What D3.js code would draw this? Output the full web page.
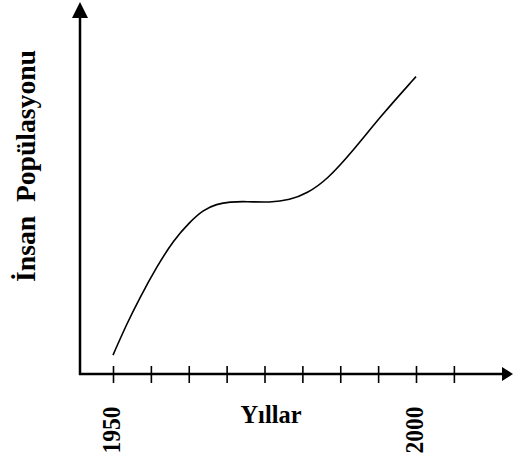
<!DOCTYPE html>
<html>
<head>
<meta charset="utf-8">
<script src="https://cdn.jsdelivr.net/npm/d3@7"></script>
<style>
  body { margin: 0; background: #fff; }
  text { font-family: "Liberation Serif", "Times New Roman", serif; font-weight: bold; fill: #000; }
</style>
</head>
<body>
<div id="container"></div>
<script>
// years and population (arbitrary units)
const years = [1950, 1952.3, 1954.5, 1957.2, 1960, 1962.7, 1964.9, 1967.1, 1969.3, 1972, 1975.9, 1979.2, 1982, 1985.3, 1989.7, 1994.1, 2000]
const population = [5.2, 13.9, 21.2, 29.4, 36.8, 41.8, 45.1, 46.7, 47.3, 47.4, 47.1, 47.8, 49.6, 53.3, 61.5, 70.7, 81.7]
const tickYears = [1950, 1956.25, 1962.5, 1968.75, 1975, 1981.25, 1987.5, 1993.75, 2000, 2006.25]
const tickLabels = ["1950", "", "", "", "", "", "", "", "2000", ""]
const xTitle = "Yıllar"
const yTitle = "İnsan  Popülasyonu"

const width = 513
const height = 463
const origin = { x: 80, y: 374 }

const svg = d3.select('#container')
    .append('svg').attr('width', width).attr('height', height)

const xScale = d3.scaleLinear().domain([1950, 2000]).range([113, 416])
const yScale = d3.scaleLinear().domain([0, 100]).range([origin.y, 10])

// axes with arrow heads
svg.append("line")
    .attr("x1", origin.x).attr("y1", origin.y + 1)
    .attr("x2", origin.x).attr("y2", 16)
    .attr("stroke", "#000").attr("stroke-width", 2.5)
svg.append("polygon")
    .attr("points", [[origin.x - 8, 18], [origin.x, 2], [origin.x + 8, 18]].map(p => p.join(",")).join(" "))
    .attr("fill", "#000")

svg.append("line")
    .attr("x1", origin.x - 1).attr("y1", origin.y)
    .attr("x2", 504).attr("y2", origin.y)
    .attr("stroke", "#000").attr("stroke-width", 2.5)
svg.append("polygon")
    .attr("points", [[502, origin.y - 7], [513, origin.y], [502, origin.y + 7]].map(p => p.join(",")).join(" "))
    .attr("fill", "#000")

// ticks
const xAxis = d3.axisBottom(xScale)
    .tickValues(tickYears)
    .tickSize(0)
    .tickFormat("")
const gx = svg.append("g").attr("transform", `translate(0,${origin.y})`).call(xAxis)
gx.select(".domain").remove()
gx.selectAll(".tick").append("line")
    .attr("y1", -8).attr("y2", 9)
    .attr("stroke", "#000").attr("stroke-width", 1.6)

// tick labels, rotated
svg.selectAll(".tlabel")
    .data(tickYears.map((d, i) => [d, tickLabels[i]]).filter(d => d[1]))
    .enter().append("text")
    .attr("class", "tlabel")
    .attr("transform", d => `translate(${xScale(d[0]) + 7},430) rotate(-90)`)
    .attr("text-anchor", "middle")
    .attr("font-size", 26)
    .attr("textLength", 47)
    .attr("lengthAdjust", "spacingAndGlyphs")
    .text(d => d[1])

// axis titles
svg.append("text")
    .attr("x", 271).attr("y", 423)
    .attr("text-anchor", "middle")
    .attr("font-size", 26)
    .attr("textLength", 61)
    .attr("lengthAdjust", "spacingAndGlyphs")
    .text(xTitle)

svg.append("text")
    .attr("transform", "translate(35,166) rotate(-90)")
    .attr("text-anchor", "middle")
    .attr("font-size", 28)
    .attr("textLength", 232)
    .attr("lengthAdjust", "spacingAndGlyphs")
    .style("white-space", "pre")
    .text(yTitle)

// population curve
const line = d3.line()
    .x((d, i) => xScale(years[i]))
    .y(d => yScale(d))
    .curve(d3.curveBasis)

svg.append("path")
    .attr("d", line(population))
    .attr("fill", "none")
    .attr("stroke", "#000")
    .attr("stroke-width", 1.6)
</script>
</body>
</html>
